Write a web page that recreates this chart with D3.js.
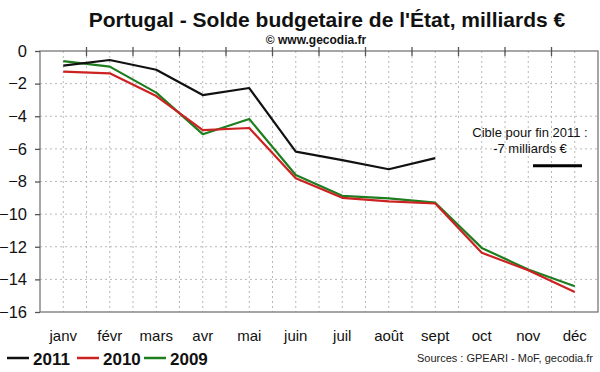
<html>
<head>
  <style>
    body { margin: 0; background: #fff; font-family: "Liberation Sans", Arial, sans-serif; }
    .grid line { stroke: #b8b8b8; stroke-width: 1; stroke-dasharray: 2,3; }
    .frame { stroke: #777; stroke-width: 1.3; fill: none; }
  </style>
</head>
<body>
  <div id="chart"></div>
  <script src="https://d3js.org/d3.v7.min.js"></script>
  <script>
    var months = ["janv", "févr", "mars", "avr", "mai", "juin", "juil", "août", "sept", "oct", "nov", "déc"];
    var yTicks = [0, -2, -4, -6, -8, -10, -12, -14, -16];
    var s2011 = [-0.9, -0.55, -1.15, -2.7, -2.27, -6.17, -6.69, -7.25, -6.57];
    var s2010 = [-1.27, -1.37, -2.76, -4.85, -4.72, -7.8, -9.0, -9.22, -9.35, -12.37, -13.44, -14.77];
    var s2009 = [-0.62, -0.96, -2.55, -5.1, -4.17, -7.6, -8.88, -9.04, -9.3, -12.07, -13.4, -14.42];
    var target = -7.03;

    var width = 600, height = 372;
    var pl = 40, pr = 598, pt = 51, pb = 312;

    var svg = d3.select("#chart").append("svg")
      .attr("width", width)
      .attr("height", height);

    var x = d3.scaleBand().domain(months).range([pl, pr]);
    var y = d3.scaleLinear().domain([-16, 0]).range([pb, pt]);
    var cx = function (i) { return x(months[i]) + x.bandwidth() / 2; };

    // dotted grid
    var grid = svg.append("g").attr("class", "grid");
    var vLines = [];
    months.forEach(function (m, i) {
      vLines.push(x(m) + x.bandwidth() / 2);
      if (i > 0) vLines.push(x(m));
    });
    grid.selectAll(".v").data(vLines).enter().append("line")
      .attr("x1", function (d) { return d; }).attr("x2", function (d) { return d; })
      .attr("y1", pt).attr("y2", pb);
    grid.selectAll(".h").data(yTicks.slice(1, -1)).enter().append("line")
      .attr("x1", pl).attr("x2", pr)
      .attr("y1", function (d) { return y(d); }).attr("y2", function (d) { return y(d); });

    // frame
    svg.append("rect").attr("class", "frame")
      .attr("x", pl).attr("y", pt)
      .attr("width", pr - pl).attr("height", pb - pt);

    // ticks on the zero line at band edges
    svg.append("g").selectAll("line").data(months.slice(1)).enter().append("line")
      .attr("x1", function (d) { return x(d); }).attr("x2", function (d) { return x(d); })
      .attr("y1", pt - 4).attr("y2", pt + 5)
      .attr("stroke", "#555").attr("stroke-width", 1.3);

    // y axis
    var yAxis = svg.append("g")
      .attr("transform", "translate(" + pl + ",0)")
      .call(d3.axisLeft(y).tickValues(yTicks).tickSize(5).tickPadding(8).tickFormat(d3.format("d")));
    yAxis.select(".domain").remove();
    yAxis.selectAll(".tick line").attr("stroke", "#555").attr("stroke-width", 1.3);
    yAxis.selectAll(".tick text")
      .style("font-family", "'Liberation Sans', Arial, sans-serif")
      .style("font-size", "16.5px").attr("fill", "#111");

    // month labels
    svg.append("g").selectAll("text").data(months).enter().append("text")
      .attr("x", function (d, i) { return cx(i); })
      .attr("y", 341)
      .attr("text-anchor", "middle")
      .style("font-size", "15px").attr("fill", "#111")
      .text(function (d) { return d; });

    var line = d3.line()
      .x(function (d, i) { return cx(i); })
      .y(function (d) { return y(d); });

    var series = [
      { name: "2009", values: s2009, color: "#1e7d1e" },
      { name: "2010", values: s2010, color: "#cc2222" },
      { name: "2011", values: s2011, color: "#111111" }
    ];
    svg.append("g").selectAll("path").data(series).enter().append("path")
      .attr("d", function (d) { return line(d.values); })
      .attr("fill", "none")
      .attr("stroke", function (d) { return d.color; })
      .attr("stroke-width", 2.2)
      .attr("stroke-linejoin", "round");

    // target
    svg.append("line")
      .attr("x1", 533).attr("x2", 582)
      .attr("y1", y(target)).attr("y2", y(target))
      .attr("stroke", "#000").attr("stroke-width", 3);
    svg.append("text").attr("x", 530).attr("y", 137).attr("text-anchor", "middle")
      .style("font-size", "13px").attr("fill", "#111").text("Cible pour fin 2011 :");
    svg.append("text").attr("x", 530).attr("y", 153).attr("text-anchor", "middle")
      .style("font-size", "13px").attr("fill", "#111").text("-7 milliards €");

    // titles
    svg.append("text").attr("x", 327).attr("y", 27).attr("text-anchor", "middle")
      .style("font-size", "21px").style("font-weight", "bold").attr("fill", "#111")
      .text("Portugal - Solde budgetaire de l'État, milliards €");
    svg.append("text").attr("x", 316).attr("y", 44).attr("text-anchor", "middle")
      .style("font-size", "12px").style("font-weight", "bold").attr("fill", "#111")
      .text("© www.gecodia.fr");

    // legend
    var legend = [
      { name: "2011", color: "#111111", x: 7 },
      { name: "2010", color: "#cc2222", x: 77 },
      { name: "2009", color: "#1e7d1e", x: 144 }
    ];
    var lg = svg.append("g").selectAll("g").data(legend).enter().append("g")
      .attr("transform", function (d) { return "translate(" + d.x + ",358)"; });
    lg.append("line").attr("x1", 0).attr("x2", 22).attr("y1", 0).attr("y2", 0)
      .attr("stroke", function (d) { return d.color; }).attr("stroke-width", 2.5);
    lg.append("text").attr("x", 26).attr("y", 6.5)
      .style("font-size", "17px").style("font-weight", "bold").attr("fill", "#111")
      .text(function (d) { return d.name; });

    svg.append("text").attr("x", 593).attr("y", 362).attr("text-anchor", "end")
      .style("font-size", "11px").attr("fill", "#222")
      .text("Sources : GPEARI - MoF, gecodia.fr");
  </script>
</body>
</html>
